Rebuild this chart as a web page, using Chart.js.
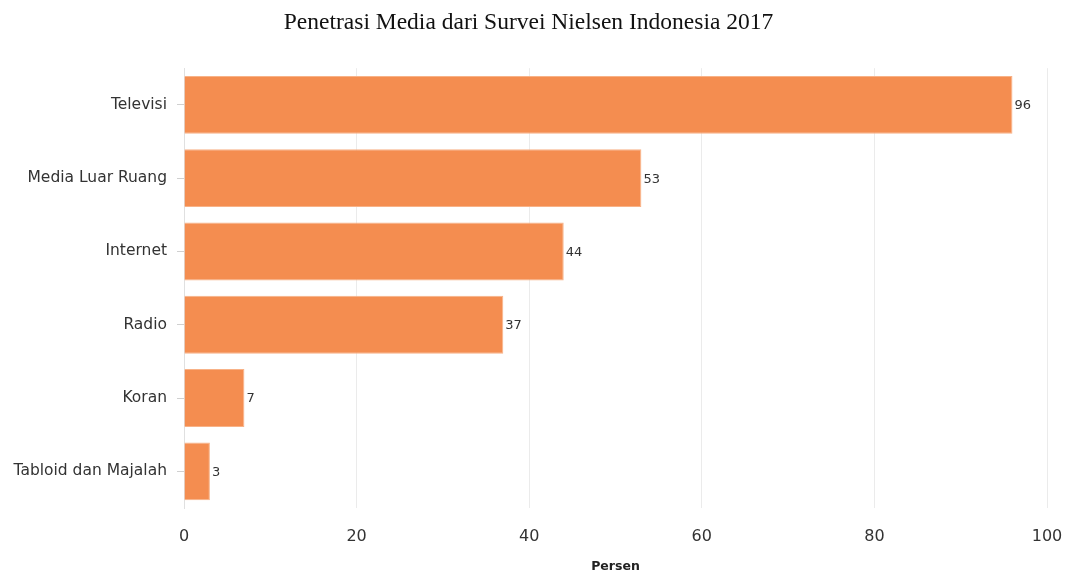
<!DOCTYPE html>
<html>
<head>
<meta charset="utf-8">
<script src="https://cdn.jsdelivr.net/npm/chart.js@4/dist/chart.umd.min.js"></script>
<style>
    html, body { margin: 0; padding: 0; background: #fff; }
    #wrap { width: 1070px; height: 577px; }
</style>
</head>
<body>
<div id="wrap"><canvas id="chart" width="1070" height="577"></canvas></div>
<script>
// Daten
const kategorien = ['Televisi', 'Media Luar Ruang', 'Internet', 'Radio', 'Koran', 'Tabloid dan Majalah'];
const persen = [96, 53, 44, 37, 7, 3];
const xTicks = [0, 20, 40, 60, 80, 100];

const BAR_COLOR = '#F48D50';
const LABEL_FONT = '"DejaVu Sans", Verdana, sans-serif';

// Werte rechts neben die Balken schreiben
const valueLabels = {
    id: 'valueLabels',
    afterDatasetsDraw(chart) {
        const ctx = chart.ctx;
        const meta = chart.getDatasetMeta(0);
        ctx.save();
        ctx.font = '13px ' + LABEL_FONT;
        ctx.fillStyle = '#333';
        ctx.textAlign = 'left';
        ctx.textBaseline = 'middle';
        meta.data.forEach((bar, i) => {
            ctx.fillText(String(persen[i]), bar.x + 2, bar.y + 1);
        });
        ctx.restore();
    }
};

new Chart(document.getElementById('chart').getContext('2d'), {
    type: 'bar',
    data: {
        labels: kategorien,
        datasets: [{
            data: persen,
            backgroundColor: BAR_COLOR,
            borderColor: 'rgba(248, 178, 135, 1)',
            borderWidth: 1,
            categoryPercentage: 1,
            barPercentage: 0.79
        }]
    },
    options: {
        indexAxis: 'y',
        responsive: false,
        animation: false,
        layout: { padding: { left: 10, right: 23, top: 0, bottom: 0 } },
        plugins: {
            legend: { display: false },
            tooltip: { enabled: false },
            title: {
                display: true,
                text: 'Penetrasi Media dari Survei Nielsen Indonesia 2017',
                color: '#111',
                font: { family: '"Liberation Serif", "Times New Roman", serif', size: 23.5, weight: 'normal' },
                padding: { top: 9, bottom: 31 }
            }
        },
        scales: {
            x: {
                min: 0,
                max: 100,
                afterBuildTicks: (scale) => { scale.ticks = xTicks.map(v => ({ value: v })); },
                afterFit: (scale) => {
                    scale.height = 69;
                    scale.paddingLeft = 0;
                    scale.paddingRight = 0;
                },
                ticks: {
                    color: '#333',
                    font: { family: LABEL_FONT, size: 16 },
                    padding: 19
                },
                grid: { color: '#ebebeb', drawTicks: false },
                border: { display: false },
                title: {
                    display: true,
                    text: 'Persen',
                    color: '#222',
                    font: { family: LABEL_FONT, size: 12.5, weight: 'bold' },
                    padding: { top: 0, bottom: 3 }
                }
            },
            y: {
                afterFit: (scale) => { scale.width = 174; },
                ticks: {
                    color: '#333',
                    font: { family: LABEL_FONT, size: 15.5 },
                    padding: 10
                },
                grid: { drawOnChartArea: false, offset: false, color: '#d0d0d0', tickLength: 7 },
                border: { color: '#e0e0e0' }
            }
        }
    },
    plugins: [valueLabels]
});
</script>
</body>
</html>
